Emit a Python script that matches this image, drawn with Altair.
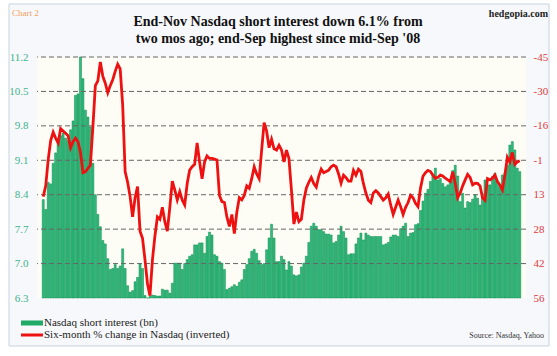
import altair as alt
import pandas as pd

# ---------------- data ----------------
x_labels = ["Nov-07", "Nov-08", "Nov-09", "Nov-10", "Nov-11",
            "Nov-12", "Nov-13", "Nov-14", "Nov-15"]
left_ticks = [6.3, 7.0, 7.7, 8.4, 9.1, 9.8, 10.5, 11.2]
right_labels = ["-45", "-30", "-16", "-1", "13", "28", "42", "56"]

# Nasdaq short interest (bn), semi-monthly, Nov-07 .. Nov-15
short_interest = [
    8.30, 8.10, 8.65, 8.62, 9.04, 9.25, 9.50, 9.60, 9.65, 9.55,
    9.50, 9.72, 9.90, 10.42, 10.45, 11.20, 10.76, 10.12, 9.98, 9.78,
    9.04, 8.40, 8.00, 7.75, 7.47, 7.40, 7.10, 6.88, 6.90, 6.98,
    6.90, 6.95, 7.30, 6.90, 6.55, 6.42, 6.45, 6.63, 6.72, 7.00,
    6.90, 6.35, 6.30, 6.33, 6.36, 6.35, 6.34, 6.34, 6.48, 6.46,
    6.46, 6.40, 6.60, 7.01, 7.01, 7.01, 6.88, 7.00, 7.08, 7.15,
    7.18, 7.38, 7.38, 7.42, 7.42, 7.21, 7.55, 7.64, 7.58, 7.18,
    7.15, 7.04, 7.01, 6.88, 6.47, 6.50, 6.53, 6.57, 6.54, 6.62,
    6.67, 6.88, 6.98, 7.10, 7.25, 7.29, 7.21, 7.06, 6.98, 7.00,
    7.28, 7.52, 7.80, 7.52, 7.04, 7.04, 7.15, 7.08, 6.87, 7.04,
    6.95, 6.77, 6.75, 6.77, 6.93, 7.01, 7.15, 7.43, 7.76, 7.82,
    7.76, 7.69, 7.69, 7.65, 7.60, 7.60, 7.58, 7.42, 7.45, 7.58,
    7.76, 7.65, 7.52, 7.18, 7.20, 7.20, 7.40, 7.52, 7.62, 7.48,
    7.62, 7.58, 7.55, 7.55, 7.55, 7.55, 7.55, 7.38, 7.40, 7.43,
    7.54, 7.58, 7.58, 7.55, 7.71, 7.76, 7.82, 7.55, 7.62, 7.63,
    7.79, 7.81, 8.08, 8.27, 8.43, 8.51, 8.67, 8.80, 8.94, 8.70,
    8.73, 8.63, 8.56, 8.60, 8.70, 8.89, 9.00, 8.78, 8.26, 8.43,
    8.13, 8.26, 8.24, 8.31, 8.40, 8.33, 8.19, 8.36, 8.70, 8.60,
    8.60, 8.77, 8.84, 8.67, 8.56, 8.80, 8.84, 9.00, 9.41, 9.48,
    9.31, 8.94, 8.87,
]

# Six-month % change in Nasdaq (inverted axis)
nasdaq_6m = [
    13.5, 9, -2, -10, -13.5, -11, -9, -15, -14, -13,
    -12, -7, -9.5, -11, -9.5, -5, 3.5, 3, 1.7, 0.3,
    -15.7, -33, -35, -42.9, -37, -34, -30, -33, -35.5, -39,
    -42, -40, -25, 3, 7.5, 13.5, 22, 14, 9.3, 28,
    31, 40, 50, 55, 40, 30, 22, 23, 18, 24,
    28, 18, 7, 10.7, 14.9, 11.4, 14.9, 17, 8, 2.4,
    1, 0, -9, -1, 6, -1, -3.5, -2.5, -2.5, -2.2,
    -1.8, 13, 15.6, 16, 22, 26, 21, 29, 20, 14,
    14.9, 13, 9, 10, 6, 1, 4, 6, -6, -17.5,
    -14, -7, -10.5, -6.5, -6, -8, -6, -1, -6, -2.5,
    10.7, 25, 20, 24, 23, 15, 10, 7.5, 5.5, 8,
    9.5, 5, 2, 3.5, 3, 2.4, 1, 0.3, 1, 4,
    7.9, 4.5, 5.6, 7, 7, 2.5, 4.5, 2, 3, 8,
    12, 15, 16, 12, 11, 12, 13.5, 15, 14, 12.4,
    17, 21, 18, 15, 17.7, 21, 18, 16, 13, 14,
    16.3, 17.7, 10, 5, 3.5, 2.5, 3, 4.5, 5.8, 5.4,
    4.5, 4.9, 5.8, 6.5, 7.2, 3.1, 8, 14, 12, 9,
    6.5, 4.2, 5.5, 8.6, 7.9, 8, 9, 14, 15, 6,
    6.5, 5.8, 4.5, 7.2, 8.6, 10.7, 4.5, -3, -1, -5,
    0, -1, -1.5,
]

title_lines = ["End-Nov Nasdaq short interest  down 6.1% from",
               "two mos ago; end-Sep highest since mid-Sep '08"]
legend_labels = ["Nasdaq short interest (bn)",
                 "Six-month % change in Nasdaq (inverted)"]
source_text = "Source: Nasdaq, Yahoo"
chart_tag = "Chart 2"
brand = "hedgopia.com"

# ---------------- build ----------------
W, H = 489, 241
n = len(short_interest)
bar_df = pd.DataFrame({"i": list(range(n)), "v": short_interest})
line_df = pd.DataFrame({"i": list(range(len(nasdaq_6m))), "p": nasdaq_6m})
grid_df = pd.DataFrame({"g": left_ticks[1:]})

xdom = [-0.5, n - 0.5]
x_vals = [k * 24 for k in range(len(x_labels))]
x_expr = "[" + ",".join("'%s'" % s for s in x_labels) + "][round(datum.value/24)]"
r_step = 101 / 7
r_vals = [-45 + k * r_step for k in range(len(right_labels))]
r_expr = "[" + ",".join("'%s'" % s for s in right_labels) + "][round((datum.value+45)/%f)]" % r_step

SERIF = "Liberation Serif"
one = pd.DataFrame({"a": [0]})

frame = alt.Chart(one).mark_rect(fill="#f7f8fb", stroke="#c9d3df", strokeWidth=1).encode(
    x=alt.value(-28), x2=alt.value(512), y=alt.value(-53), y2=alt.value(289))
plotbg = alt.Chart(one).mark_rect(fill="#fdfdf6").encode(
    x=alt.value(0), x2=alt.value(W), y=alt.value(0), y2=alt.value(H))

bars = alt.Chart(bar_df).mark_bar(width=2.0, fill="#33bb80", stroke="#008a45",
                                  strokeWidth=0.5).encode(
    x=alt.X("i:Q", scale=alt.Scale(domain=xdom, nice=False, zero=False),
            axis=alt.Axis(values=x_vals, labelExpr=x_expr, grid=False, ticks=False,
                          domain=False, labelFont=SERIF, labelFontSize=11,
                          labelColor="#22305a", labelPadding=6, labelFlush=False,
                          labelOverlap=False, title=None, zindex=2)),
    y=alt.Y("v:Q", scale=alt.Scale(domain=[6.3, 11.2], nice=False, zero=False),
            axis=alt.Axis(values=left_ticks, format=".1f", grid=False, ticks=False,
                          domain=False, labelFont=SERIF, labelFontSize=11,
                          labelColor="#3db48a", labelPadding=9, labelFlush=False,
                          labelOverlap=False, title=None, zindex=2)),
    y2=alt.datum(6.3),
)

grid = alt.Chart(grid_df).mark_rule(color="#666666", strokeWidth=1, strokeDash=[5, 3]).encode(
    y=alt.Y("g:Q", scale=alt.Scale(domain=[6.3, 11.2], nice=False, zero=False), axis=None))

line = alt.Chart(line_df).mark_line(color="#ee1111", strokeWidth=2.8).encode(
    x=alt.X("i:Q", scale=alt.Scale(domain=xdom, nice=False, zero=False), axis=None),
    y=alt.Y("p:Q", scale=alt.Scale(domain=[-45, 56], reverse=True, nice=False, zero=False),
            axis=alt.Axis(orient="right", values=r_vals, labelExpr=r_expr, grid=False,
                          ticks=False, domain=False, labelFont=SERIF, labelFontSize=11,
                          labelColor="#e03a3a", labelPadding=7, labelFlush=False,
                          labelOverlap=False, title=None, zindex=2)),
)

title1 = alt.Chart(pd.DataFrame({"t": [title_lines[0]]})).mark_text(
    font=SERIF, fontSize=14, fontWeight="bold", color="#111111", align="center",
    baseline="middle").encode(text="t:N", x=alt.value(241), y=alt.value(-35))
title2 = alt.Chart(pd.DataFrame({"t": [title_lines[1]]})).mark_text(
    font=SERIF, fontSize=14, fontWeight="bold", color="#111111", align="center",
    baseline="middle").encode(text="t:N", x=alt.value(241), y=alt.value(-18))

tag = alt.Chart(pd.DataFrame({"t": [chart_tag]})).mark_text(
    font=SERIF, fontSize=9, color="#f0a060", align="left", baseline="middle").encode(
    text="t:N", x=alt.value(-25), y=alt.value(-44))
brand_t = alt.Chart(pd.DataFrame({"t": [brand]})).mark_text(
    font=SERIF, fontSize=10, fontWeight="bold", color="#222222", align="right",
    baseline="middle").encode(text="t:N", x=alt.value(511), y=alt.value(-43))

sw1 = alt.Chart(one).mark_rule(color="#1faa66", strokeWidth=5).encode(
    x=alt.value(-16), x2=alt.value(6), y=alt.value(266))
sw2 = alt.Chart(one).mark_rule(color="#ee1111", strokeWidth=3).encode(
    x=alt.value(-16), x2=alt.value(6), y=alt.value(278))
leg1 = alt.Chart(pd.DataFrame({"t": [legend_labels[0]]})).mark_text(
    font=SERIF, fontSize=11, color="#1a1a1a", align="left", baseline="middle").encode(
    text="t:N", x=alt.value(7), y=alt.value(266))
leg2 = alt.Chart(pd.DataFrame({"t": [legend_labels[1]]})).mark_text(
    font=SERIF, fontSize=11, color="#1a1a1a", align="left", baseline="middle").encode(
    text="t:N", x=alt.value(7), y=alt.value(278))
src = alt.Chart(pd.DataFrame({"t": [source_text]})).mark_text(
    font=SERIF, fontSize=8, color="#333333", align="right", baseline="middle").encode(
    text="t:N", x=alt.value(507), y=alt.value(279))

chart = alt.layer(
    frame, plotbg, bars, grid, line, title1, title2, tag, brand_t,
    sw1, sw2, leg1, leg2, src
).resolve_scale(y="independent").properties(
    width=W, height=H,
    autosize=alt.AutoSizeParams(type="none"),
    padding={"left": 37, "top": 57, "right": 31, "bottom": 58},
    background="#ffffff",
).configure_view(stroke=None)

chart.save("out.html", embed_options={"renderer": "svg", "actions": False})
